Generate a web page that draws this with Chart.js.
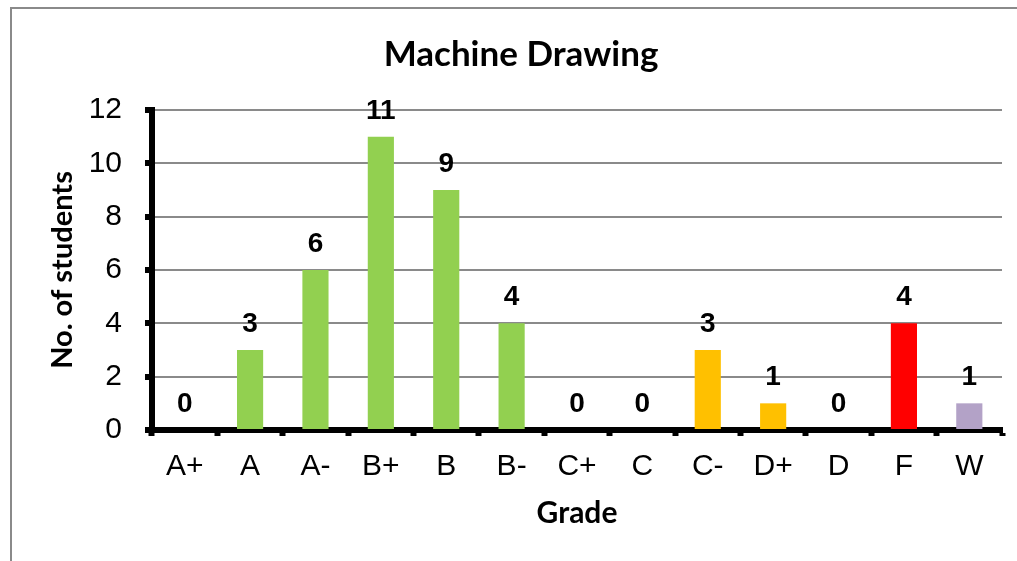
<!DOCTYPE html>
<html>
<head>
<meta charset="utf-8">
<title>Machine Drawing</title>
<script src="https://cdn.jsdelivr.net/npm/chart.js@4.4.1/dist/chart.umd.min.js"></script>
<style>
  html, body { margin: 0; padding: 0; background: #fff; }
  #wrap { position: relative; width: 1017px; height: 561px; }
</style>
</head>
<body>
<div id="wrap"><canvas id="gradeChart" width="1017" height="561"></canvas></div>
<script>
const grades = ['A+', 'A', 'A-', 'B+', 'B', 'B-', 'C+', 'C', 'C-', 'D+', 'D', 'F', 'W'];
const students = [0, 3, 6, 11, 9, 4, 0, 0, 3, 1, 0, 4, 1];
const barColors = ['#92D050', '#92D050', '#92D050', '#92D050', '#92D050', '#92D050',
                   '#FFC000', '#FFC000', '#FFC000', '#FFC000', '#FFC000', '#FF0000', '#B3A2C7'];
const yTicks = [0, 2, 4, 6, 8, 10, 12];
const chartTitle = 'Machine Drawing';

// gray frame around the picture (only top and left edges are visible) + title
const framePlugin = {
    id: 'frame',
    beforeDraw(chart) {
        const ctx = chart.ctx;
        ctx.save();
        ctx.fillStyle = '#fff';
        ctx.fillRect(0, 0, chart.width, chart.height);
        ctx.strokeStyle = '#8a8a8a';
        ctx.lineWidth = 2;
        ctx.beginPath();
        ctx.moveTo(11, chart.height);
        ctx.lineTo(11, 8);
        ctx.lineTo(chart.width, 8);
        ctx.stroke();
        // title is centred on the whole frame, not on the plot
        ctx.font = 'bold 35px Lato, "Open Sans", sans-serif';
        ctx.fillStyle = '#000';
        ctx.textAlign = 'center';
        ctx.textBaseline = 'middle';
        ctx.fillText(chartTitle, 521, 55);
        ctx.restore();
    }
};

// value labels over the bars
const valueLabels = {
    id: 'valueLabels',
    afterDatasetsDraw(chart) {
        const ctx = chart.ctx;
        const meta = chart.getDatasetMeta(0);
        ctx.save();
        ctx.font = 'bold 28px "Liberation Sans", Arial, sans-serif';
        ctx.fillStyle = '#000';
        ctx.textAlign = 'center';
        ctx.textBaseline = 'alphabetic';
        meta.data.forEach(function(bar, i) {
            ctx.fillText(String(students[i]), bar.x, bar.y - 18);
        });
        ctx.restore();
    }
};

const ctx = document.getElementById('gradeChart').getContext('2d');
const gradeChart = new Chart(ctx, {
    type: 'bar',
    data: {
        labels: grades,
        datasets: [{
            label: 'No. of students',
            data: students,
            backgroundColor: barColors,
            borderWidth: 0,
            barPercentage: 0.4,
            categoryPercentage: 1.0
        }]
    },
    options: {
        responsive: false,
        animation: false,
        layout: {
            padding: { left: 0, top: 110, right: 15, bottom: 0 }
        },
        scales: {
            x: {
                offset: true,
                grid: {
                    offset: true,
                    drawOnChartArea: false,
                    tickLength: 6,
                    tickWidth: 6,
                    tickColor: '#000'
                },
                border: { display: true, color: '#000', width: 6 },
                ticks: {
                    color: '#000',
                    padding: 13,
                    maxRotation: 0,
                    autoSkip: false,
                    font: { family: '"Liberation Sans", Arial, sans-serif', size: 30 }
                },
                title: {
                    display: true,
                    text: 'Grade',
                    color: '#000',
                    font: { family: 'Lato, "Open Sans", sans-serif', size: 30, weight: 'bold' },
                    padding: { top: 0, bottom: 30 }
                },
                afterFit: function(scale) { scale.height = 131; }
            },
            y: {
                min: 0,
                max: 12,
                afterBuildTicks: function(scale) {
                    scale.ticks = yTicks.map(function(v) { return { value: v }; });
                },
                grid: {
                    color: '#8a8a8a',
                    lineWidth: 2,
                    tickLength: 7,
                    tickWidth: 6,
                    tickColor: '#000'
                },
                border: { display: true, color: '#000', width: 6 },
                ticks: {
                    color: '#000',
                    padding: 23,
                    font: { family: '"Liberation Sans", Arial, sans-serif', size: 30 }
                },
                title: {
                    display: true,
                    text: 'No. of students',
                    color: '#000',
                    font: { family: 'Lato, "Open Sans", sans-serif', size: 29, weight: 'bold' },
                    padding: { top: 45, bottom: 0 }
                },
                afterFit: function(scale) { scale.width = 152; }
            }
        },
        plugins: {
            legend: { display: false },
            tooltip: { enabled: false },
            title: { display: false }
        }
    },
    plugins: [framePlugin, valueLabels]
});
</script>
</body>
</html>
